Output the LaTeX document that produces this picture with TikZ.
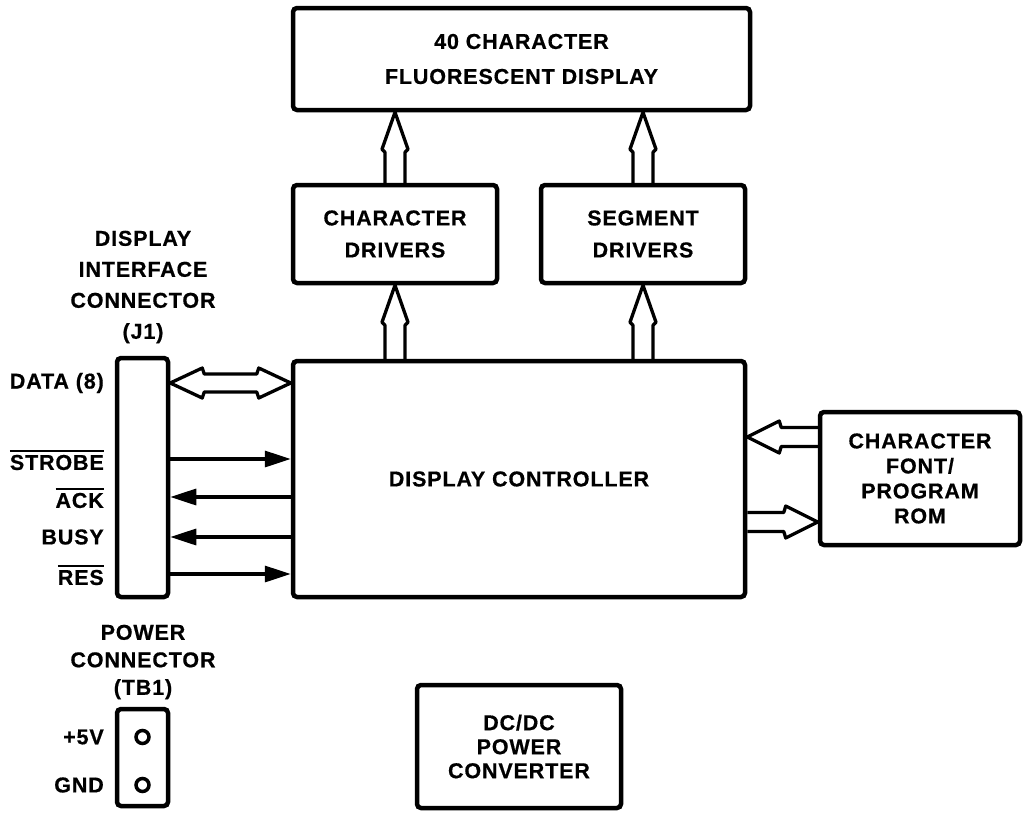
\documentclass[tikz,border=0pt]{standalone}
\usepackage{fontspec}
\setmainfont{Liberation Sans}[LetterSpace=4,FakeBold=0.6]
\usetikzlibrary{calc,arrows.meta}
\tikzset{
  blk/.style={draw, line width=4.5pt, rounded corners=4pt, align=center, inner sep=0pt},
  lbl/.style={align=center, inner sep=0pt},
  harr/.style={line width=3.3pt, line join=round},
  sig/.style={line width=3.3pt, -{Triangle[length=26pt,width=16pt]}},
  pin/.style={draw, circle, line width=3.5pt, minimum size=13pt, inner sep=0pt},
}
\newcommand\ft[1]{\fontsize{21.5}{#1}\selectfont\bfseries}
\newcommand\ovl[1]{\leavevmode\setbox0\hbox{#1}\rlap{\raisebox{\dimexpr\ht0+3pt\relax}{\rule{\wd0}{2pt}}}\box0}
% vertical hollow arrow: #1 bottom (tail), #2 top (tip)
\newcommand\uparr[2]{%
  \draw[harr] ($(#1)+(-10,0)$) -- ($(#2)+(-10,40)$) -- ($(#2)+(-13,37)$) -- (#2)
    -- ($(#2)+(13,37)$) -- ($(#2)+(10,40)$) -- ($(#1)+(10,0)$);}
% horizontal hollow arrow, tip on the left: #1 tip, #2 tail
\newcommand\leftarr[2]{%
  \draw[harr] ($(#2)+(0,-9.5)$) -- ($(#1)+(34,-9.5)$) -- ($(#1)+(32,-16)$) -- (#1)
    -- ($(#1)+(32,16)$) -- ($(#1)+(34,9.5)$) -- ($(#2)+(0,9.5)$);}
% horizontal hollow arrow, tip on the right: #1 tail, #2 tip
\newcommand\rightarr[2]{%
  \draw[harr] ($(#1)+(0,-9.5)$) -- ($(#2)+(-34,-9.5)$) -- ($(#2)+(-32,-16)$) -- (#2)
    -- ($(#2)+(-32,16)$) -- ($(#2)+(-34,9.5)$) -- ($(#1)+(0,9.5)$);}
% double-headed hollow arrow: #1 left tip, #2 right tip
\newcommand\dblarr[2]{%
  \draw[harr] (#1) -- ($(#1)+(32,-15)$) -- ($(#1)+(34,-9)$) -- ($(#2)+(-34,-9)$)
    -- ($(#2)+(-32,-15)$) -- (#2) -- ($(#2)+(-32,15)$) -- ($(#2)+(-34,9)$)
    -- ($(#1)+(34,9)$) -- ($(#1)+(32,15)$) -- cycle;}
\begin{document}
\begin{tikzpicture}[x=1pt,y=-1pt]
\useasboundingbox (0,0) rectangle (1029,814);

% blocks
\node[blk, minimum width=457pt, minimum height=102pt, font=\ft{35}] (disp) at (521.5,59)
  {40 CHARACTER\\FLUORESCENT DISPLAY};
\node[blk, minimum width=204pt, minimum height=98pt, font=\ft{32}] (chardrv) at (395,234)
  {CHARACTER\\DRIVERS};
\node[blk, minimum width=204pt, minimum height=98pt, font=\ft{32}] (segdrv) at (643,234)
  {SEGMENT\\DRIVERS};
\node[blk, minimum width=452pt, minimum height=236pt, font=\ft{25}] (ctrl) at (519,479)
  {DISPLAY CONTROLLER};
\node[blk, minimum width=200pt, minimum height=133pt, font=\ft{25}] (rom) at (920,478.5)
  {CHARACTER\\FONT/\\PROGRAM\\ROM};
\node[blk, minimum width=51pt, minimum height=239pt] (j1) at (142.5,477.5) {};
\node[blk, minimum width=51pt, minimum height=97pt] (tb1) at (142.5,757.5) {};
\node[blk, minimum width=204pt, minimum height=123pt, font=\ft{24}] (dcdc) at (519,746.5)
  {DC/DC\\POWER\\CONVERTER};

% labels
\node[lbl, font=\ft{31}] (j1lbl) at (143,287) {DISPLAY\\INTERFACE\\CONNECTOR\\(J1)};
\node[lbl, font=\ft{27.5}] (tblbl) at (143,662) {POWER\\CONNECTOR\\(TB1)};
\node[lbl, font=\ft{25}, anchor=east] (ldata) at (104,383) {DATA (8)};
\node[lbl, font=\ft{25}, anchor=east] (lstrobe) at (104,460) {\ovl{STROBE}};
\node[lbl, font=\ft{25}, anchor=east] (lack) at (104,498) {\ovl{ACK}};
\node[lbl, font=\ft{25}, anchor=east] (lbusy) at (104,537) {BUSY};
\node[lbl, font=\ft{25}, anchor=east] (lres) at (104,575) {\ovl{RES}};
\node[lbl, font=\ft{25}, anchor=east] (l5v) at (104,737) {+5V};
\node[lbl, font=\ft{25}, anchor=east] (lgnd) at (104,785) {GND};
\node[pin] (p1) at (142.5,737) {};
\node[pin] (p2) at (142.5,785) {};

% hollow bus arrows
\uparr{ctrl.north -| chardrv.south}{chardrv.south}
\uparr{ctrl.north -| segdrv.south}{segdrv.south}
\uparr{chardrv.north}{chardrv.north |- disp.south}
\uparr{segdrv.north}{segdrv.north |- disp.south}
\dblarr{j1.east |- 0,383}{ctrl.west |- 0,383}
\leftarr{ctrl.east |- 0,437}{rom.west |- 0,437}
\rightarr{ctrl.east |- 0,522}{rom.west |- 0,522}

% single signal lines
\draw[sig] (j1.east |- 0,459) -- (ctrl.west |- 0,459);
\draw[sig] (ctrl.west |- 0,497) -- (j1.east |- 0,497);
\draw[sig] (ctrl.west |- 0,537) -- (j1.east |- 0,537);
\draw[sig] (j1.east |- 0,574) -- (ctrl.west |- 0,574);
\end{tikzpicture}
\end{document}
